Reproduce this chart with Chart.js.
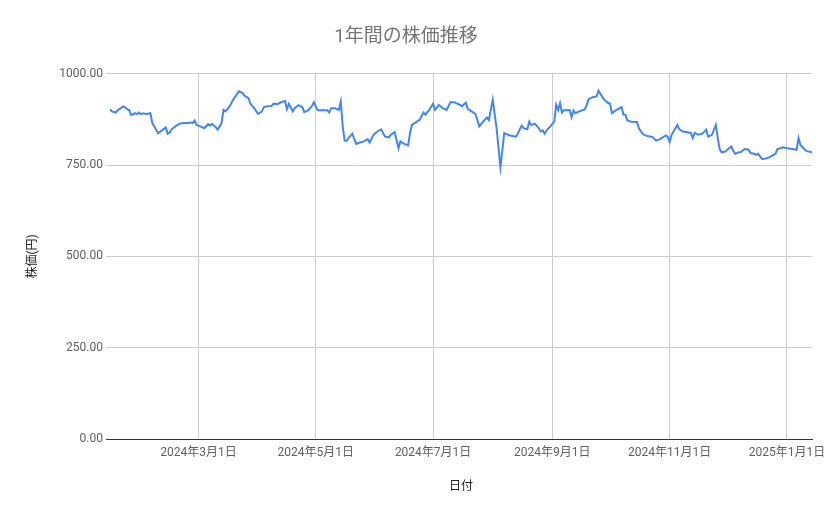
<!DOCTYPE html>
<html lang="ja">
<head>
<meta charset="utf-8">
<title>1年間の株価推移</title>
<script src="https://cdn.jsdelivr.net/npm/chart.js@4.4.1/dist/chart.umd.min.js"></script>
<style>
  html, body { margin: 0; padding: 0; background: #fff; }
  #priceChart { display: block; }
</style>
</head>
<body>
<canvas id="priceChart" width="839" height="519"></canvas>
<script>
// Dates and closing prices
const dates = [
  '2024-01-15', '2024-01-16', '2024-01-18', '2024-01-19', '2024-01-22', '2024-01-24', '2024-01-25', '2024-01-26',
  '2024-01-28', '2024-01-29', '2024-01-30', '2024-01-31', '2024-02-01', '2024-02-03', '2024-02-05', '2024-02-06',
  '2024-02-07', '2024-02-09', '2024-02-11', '2024-02-13', '2024-02-14', '2024-02-15', '2024-02-16', '2024-02-18',
  '2024-02-20', '2024-02-22', '2024-02-25', '2024-02-26', '2024-02-27', '2024-02-28', '2024-02-29', '2024-03-02',
  '2024-03-04', '2024-03-06', '2024-03-07', '2024-03-08', '2024-03-10', '2024-03-11', '2024-03-13', '2024-03-14',
  '2024-03-15', '2024-03-17', '2024-03-19', '2024-03-22', '2024-03-24', '2024-03-25', '2024-03-27', '2024-03-28',
  '2024-03-30', '2024-04-01', '2024-04-03', '2024-04-04', '2024-04-06', '2024-04-08', '2024-04-09', '2024-04-11',
  '2024-04-13', '2024-04-15', '2024-04-16', '2024-04-17', '2024-04-19', '2024-04-20', '2024-04-22', '2024-04-24',
  '2024-04-25', '2024-04-27', '2024-04-29', '2024-04-30', '2024-05-02', '2024-05-04', '2024-05-07', '2024-05-08',
  '2024-05-09', '2024-05-11', '2024-05-13', '2024-05-14', '2024-05-15', '2024-05-16', '2024-05-17', '2024-05-18',
  '2024-05-20', '2024-05-22', '2024-05-24', '2024-05-26', '2024-05-28', '2024-05-29', '2024-05-31', '2024-06-02',
  '2024-06-04', '2024-06-06', '2024-06-08', '2024-06-09', '2024-06-11', '2024-06-13', '2024-06-14', '2024-06-16',
  '2024-06-18', '2024-06-19', '2024-06-20', '2024-06-22', '2024-06-24', '2024-06-26', '2024-06-27', '2024-06-29',
  '2024-07-01', '2024-07-02', '2024-07-04', '2024-07-06', '2024-07-08', '2024-07-10', '2024-07-12', '2024-07-15',
  '2024-07-16', '2024-07-18', '2024-07-19', '2024-07-21', '2024-07-23', '2024-07-25', '2024-07-27', '2024-07-29',
  '2024-07-30', '2024-08-01', '2024-08-03', '2024-08-05', '2024-08-07', '2024-08-09', '2024-08-10', '2024-08-13',
  '2024-08-14', '2024-08-16', '2024-08-17', '2024-08-19', '2024-08-20', '2024-08-21', '2024-08-23', '2024-08-25',
  '2024-08-26', '2024-08-27', '2024-08-28', '2024-08-29', '2024-08-31', '2024-09-02', '2024-09-03', '2024-09-04',
  '2024-09-05', '2024-09-06', '2024-09-07', '2024-09-10', '2024-09-11', '2024-09-12', '2024-09-13', '2024-09-15',
  '2024-09-18', '2024-09-20', '2024-09-22', '2024-09-24', '2024-09-25', '2024-09-26', '2024-09-28', '2024-09-30',
  '2024-10-01', '2024-10-02', '2024-10-04', '2024-10-07', '2024-10-08', '2024-10-09', '2024-10-10', '2024-10-12',
  '2024-10-15', '2024-10-16', '2024-10-18', '2024-10-20', '2024-10-23', '2024-10-25', '2024-10-27', '2024-10-30',
  '2024-10-31', '2024-11-01', '2024-11-02', '2024-11-05', '2024-11-06', '2024-11-08', '2024-11-12', '2024-11-13',
  '2024-11-14', '2024-11-16', '2024-11-18', '2024-11-20', '2024-11-21', '2024-11-23', '2024-11-25', '2024-11-26',
  '2024-11-27', '2024-11-28', '2024-11-30', '2024-12-01', '2024-12-03', '2024-12-04', '2024-12-05', '2024-12-07',
  '2024-12-08', '2024-12-10', '2024-12-12', '2024-12-13', '2024-12-15', '2024-12-16', '2024-12-17', '2024-12-19',
  '2024-12-21', '2024-12-23', '2024-12-25', '2024-12-26', '2024-12-27', '2024-12-29', '2024-12-30', '2025-01-01',
  '2025-01-03', '2025-01-06', '2025-01-07', '2025-01-08', '2025-01-10', '2025-01-11', '2025-01-14'
];

const prices = [
  903, 897, 894, 900, 911, 903, 900, 887,
  892, 889, 894, 889, 892, 890, 892, 865,
  856, 837, 845, 853, 836, 839, 848, 856,
  863, 865, 865, 867, 865, 872, 860, 856,
  851, 862, 858, 863, 854, 847, 865, 901,
  897, 909, 929, 952, 947, 940, 933, 918,
  906, 890, 897, 909, 911, 912, 918, 917,
  922, 926, 903, 918, 897, 906, 914, 909,
  895, 900, 912, 922, 900, 900, 900, 894,
  906, 906, 901, 924, 856, 817, 816, 824,
  836, 808, 812, 815, 821, 812, 833, 842,
  848, 828, 826, 833, 840, 796, 815, 808,
  804, 838, 860, 867, 874, 894, 888, 901,
  918, 901, 915, 906, 901, 922, 922, 915,
  911, 921, 904, 897, 890, 856, 869, 880,
  873, 929, 851, 744, 838, 833, 831, 828,
  836, 858, 851, 848, 869, 860, 863, 851,
  842, 845, 836, 845, 856, 869, 915, 901,
  920, 894, 900, 901, 881, 900, 892, 897,
  903, 931, 936, 938, 954, 945, 929, 920,
  918, 892, 900, 909, 888, 888, 872, 869,
  868, 851, 835, 830, 827, 817, 821, 831,
  828, 813, 833, 860, 848, 842, 838, 824,
  838, 833, 836, 847, 828, 833, 860, 824,
  794, 785, 787, 792, 801, 790, 781, 785,
  786, 794, 792, 783, 781, 778, 781, 767,
  768, 772, 778, 781, 794, 797, 799, 796,
  795, 792, 824, 805, 794, 789, 785
];

// Axis ticks
const xTickDates = ['2024-03-01', '2024-05-01', '2024-07-01', '2024-09-01', '2024-11-01', '2025-01-01'];
const xTickLabels = ['2024年3月1日', '2024年5月1日', '2024年7月1日', '2024年9月1日', '2024年11月1日', '2025年1月1日'];
const yTicks = [0, 250, 500, 750, 1000];

// days since 2024-01-01, used as the linear x value
function dayOf(s) {
  const [y, m, d] = s.split('-').map(Number);
  return (Date.UTC(y, m - 1, d) - Date.UTC(2024, 0, 1)) / 86400000;
}

const points = dates.map((d, i) => ({ x: dayOf(d), y: prices[i] }));
const xTickValues = xTickDates.map(dayOf);

Chart.defaults.font.family = "Roboto, 'Noto Sans CJK JP', sans-serif";
Chart.defaults.font.size = 12;
Chart.defaults.color = '#5f5f5f';

const ctx = document.getElementById('priceChart').getContext('2d');
new Chart(ctx, {
  type: 'line',
  data: {
    datasets: [{
      label: '株価',
      data: points,
      borderColor: '#4285f4',
      borderWidth: 2,
      pointRadius: 0,
      tension: 0,
      fill: false
    }]
  },
  options: {
    responsive: false,
    animation: false,
    devicePixelRatio: 1,
    layout: { padding: { left: 0, right: 27, top: 0, bottom: 0 } },
    plugins: {
      legend: { display: false },
      tooltip: { enabled: false },
      title: {
        display: true,
        text: '1年間の株価推移',
        color: '#757575',
        font: { size: 19, weight: 'normal' },
        padding: { top: 26, bottom: 25 }
      }
    },
    scales: {
      x: {
        type: 'linear',
        min: dayOf(dates[0]),
        max: dayOf(dates[dates.length - 1]),
        afterBuildTicks: scale => {
          scale.ticks = xTickValues.map(v => ({ value: v }));
        },
        afterFit: scale => { scale.height = 80; },
        ticks: {
          padding: 7,
          maxRotation: 0,
          autoSkip: false,
          callback: value => xTickLabels[xTickValues.indexOf(value)] || ''
        },
        grid: { color: '#cccccc', drawTicks: false },
        border: { display: true, color: '#333333', width: 1 },
        title: {
          display: true,
          text: '日付',
          color: '#222222',
          font: { size: 12 },
          padding: { top: 0, bottom: 25 }
        }
      },
      y: {
        min: 0,
        max: 1000,
        afterBuildTicks: scale => {
          scale.ticks = yTicks.map(v => ({ value: v }));
        },
        afterFit: scale => { scale.width = 110; },
        ticks: {
          padding: 3,
          callback: value => value.toFixed(2)
        },
        grid: {
          color: c => (c.tick && c.tick.value === 0 ? '#333333' : '#cccccc'),
          tickLength: 4
        },
        border: { display: false },
        title: {
          display: true,
          text: '株価(円)',
          color: '#222222',
          font: { size: 12 },
          padding: { top: 26, bottom: 0 }
        }
      }
    }
  }
});
</script>
</body>
</html>
